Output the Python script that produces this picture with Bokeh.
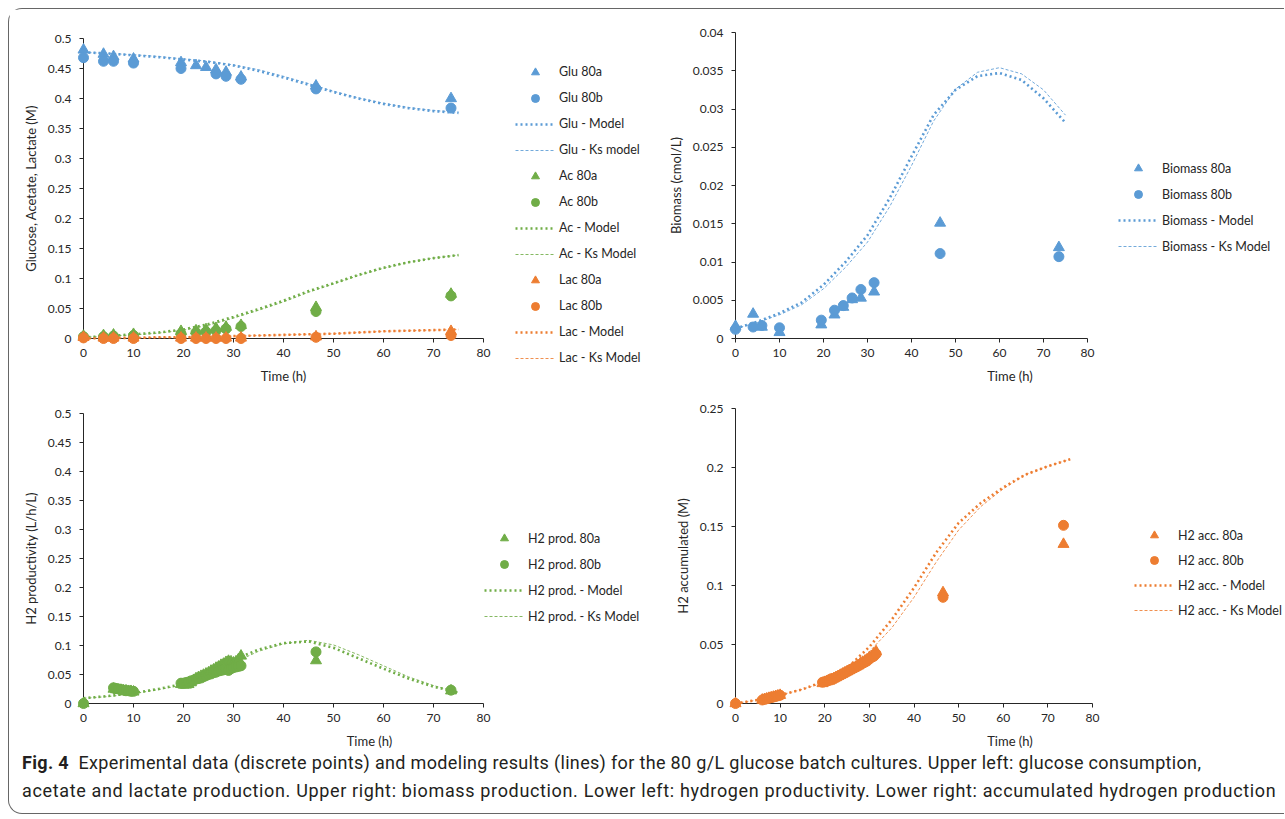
from bokeh.plotting import figure
from bokeh.models import Legend, LegendItem, FixedTicker, Range1d, Div
from bokeh.layouts import column, row
from bokeh.embed import file_html
from bokeh.resources import INLINE

NAN = float("nan")
BLUE = "#5B9BD5"
GREEN = "#70AD47"
ORANGE = "#ED7D31"
FONT = "Lato"
TXT = "#262626"

# ---------------- data ----------------
t_sample = [0, 4, 6, 10, 19.5, 22.5, 24.5, 26.5, 28.5, 31.5, 46.5, 73.5]
glu_80a = [0.481, 0.474, 0.470, 0.466, 0.460, 0.455, 0.452, 0.448, 0.444, 0.436, 0.421, 0.400]
glu_80b = [0.468, 0.462, 0.462, 0.459, 0.450, NAN, NAN, 0.441, 0.437, 0.432, 0.416, 0.384]
ac_80a = [0.004, 0.005, 0.006, 0.007, 0.012, 0.013, 0.015, 0.017, 0.019, 0.022, 0.052, 0.074]
ac_80b = [0.003, 0.003, 0.004, 0.005, 0.008, 0.010, 0.011, 0.013, 0.016, 0.020, 0.045, 0.071]
lac_80a = [0.002, 0.001, 0.001, 0.001, 0.001, 0.001, 0.001, 0.001, 0.001, 0.001, 0.003, 0.012]
lac_80b = [0.001, 0.000, 0.000, 0.000, 0.000, 0.000, 0.000, 0.000, 0.000, 0.000, 0.002, 0.005]
bio_80a = [0.0016, 0.0032, 0.0015, 0.0008, 0.0018, 0.0031, 0.0041, 0.0051, 0.0053, 0.0061, 0.0151, 0.0119]
bio_80b = [0.0012, 0.0015, 0.0017, 0.0014, 0.0024, 0.0037, 0.0043, 0.0053, 0.0064, 0.0073, 0.0111, 0.0107]

t_model = [0, 5, 10, 15, 20, 25, 30, 35, 40, 45, 50, 55, 60, 65, 70, 75]
glu_model = [0.477, 0.475, 0.472, 0.469, 0.465, 0.461, 0.455, 0.446, 0.435, 0.423, 0.411, 0.400, 0.391, 0.384, 0.379, 0.376]
glu_ks = [0.477, 0.475, 0.473, 0.470, 0.466, 0.462, 0.456, 0.448, 0.437, 0.425, 0.412, 0.401, 0.392, 0.385, 0.380, 0.377]
ac_model = [0.002, 0.004, 0.007, 0.010, 0.015, 0.024, 0.036, 0.049, 0.063, 0.079, 0.092, 0.106, 0.118, 0.127, 0.134, 0.139]
ac_ks = [0.002, 0.004, 0.006, 0.009, 0.014, 0.022, 0.034, 0.047, 0.061, 0.077, 0.091, 0.105, 0.117, 0.127, 0.134, 0.139]
lac_model = [0.000, 0.001, 0.001, 0.002, 0.002, 0.003, 0.004, 0.005, 0.006, 0.007, 0.008, 0.010, 0.012, 0.013, 0.014, 0.015]
lac_ks = [0.000, 0.001, 0.001, 0.002, 0.002, 0.003, 0.004, 0.005, 0.006, 0.007, 0.008, 0.010, 0.012, 0.013, 0.014, 0.015]
bio_model = [0.0013, 0.0022, 0.0033, 0.0047, 0.0070, 0.0100, 0.0135, 0.0183, 0.0238, 0.0292, 0.0325, 0.0343, 0.0347, 0.0338, 0.0314, 0.0282]
bio_ks = [0.0013, 0.0021, 0.0031, 0.0044, 0.0065, 0.0093, 0.0126, 0.0172, 0.0226, 0.0284, 0.0326, 0.0348, 0.0354, 0.0346, 0.0325, 0.0292]
h2p_model = [0.009, 0.013, 0.018, 0.025, 0.034, 0.053, 0.075, 0.093, 0.104, 0.107, 0.096, 0.078, 0.060, 0.043, 0.029, 0.019]
h2p_ks = [0.009, 0.012, 0.017, 0.024, 0.032, 0.050, 0.070, 0.090, 0.103, 0.109, 0.101, 0.084, 0.065, 0.046, 0.031, 0.019]
h2a_model = [0.000, 0.003, 0.007, 0.012, 0.019, 0.030, 0.048, 0.071, 0.098, 0.128, 0.153, 0.170, 0.183, 0.194, 0.201, 0.207]
h2a_ks = [0.000, 0.003, 0.007, 0.012, 0.018, 0.028, 0.044, 0.064, 0.090, 0.120, 0.147, 0.167, 0.182, 0.194, 0.201, 0.207]

t_h2 = [0,
        6, 6.5, 7, 7.5, 8, 8.5, 9, 9.5, 10,
        19.5, 20, 20.5, 21, 21.5, 22, 22.5, 23, 23.5, 24, 24.5, 25, 25.5, 26, 26.5,
        27, 27.5, 28, 28.5, 29, 29.5, 30, 30.5, 31, 31.5,
        46.5, 73.5]
h2p_80a = [0,
           0.025, 0.024, 0.023, 0.023, 0.022, 0.022, 0.021, 0.021, 0.020,
           0.033, 0.032, 0.032, 0.033, 0.036, 0.040, 0.043, 0.045, 0.047, 0.049, 0.051, 0.053, 0.056, 0.058, 0.061,
           0.063, 0.066, 0.068, 0.071, 0.073, 0.072, 0.070, 0.072, 0.076, 0.082,
           0.074, 0.022]
h2p_80b = [0,
           0.027, 0.026, 0.025, 0.024, 0.023, 0.022, 0.022, 0.021, 0.021,
           0.035, 0.035, 0.036, 0.037, 0.039, 0.040, 0.042, 0.043, 0.044, 0.046, 0.048, 0.050, 0.051, 0.053, 0.054,
           0.056, 0.057, 0.058, 0.059, 0.057, 0.060, 0.062, 0.063, 0.064, 0.065,
           0.089, 0.023]
h2a_80a = [0,
           0.003, 0.0035, 0.004, 0.0045, 0.005, 0.0055, 0.006, 0.0065, 0.007,
           0.017, 0.018, 0.0185, 0.019, 0.020, 0.021, 0.022, 0.023, 0.024, 0.025, 0.026, 0.027, 0.028, 0.029, 0.030,
           0.031, 0.032, 0.034, 0.035, 0.036, 0.037, 0.039, 0.040, 0.042, 0.044,
           0.094, 0.135]
h2a_80b = [0,
           0.003, 0.0035, 0.004, 0.0045, 0.005, 0.0055, 0.006, 0.0065, 0.007,
           0.018, 0.0185, 0.019, 0.020, 0.021, 0.021, 0.022, 0.023, 0.024, 0.025, 0.026, 0.027, 0.028, 0.029, 0.030,
           0.031, 0.032, 0.033, 0.034, 0.035, 0.036, 0.038, 0.039, 0.040, 0.042,
           0.090, 0.151]

x_ticks = [0, 10, 20, 30, 40, 50, 60, 70, 80]
ul_yticks = [0, 0.05, 0.1, 0.15, 0.2, 0.25, 0.3, 0.35, 0.4, 0.45, 0.5]
ur_yticks = [0, 0.005, 0.01, 0.015, 0.02, 0.025, 0.03, 0.035, 0.04]
ll_yticks = [0, 0.05, 0.1, 0.15, 0.2, 0.25, 0.3, 0.35, 0.4, 0.45, 0.5]
lr_yticks = [0, 0.05, 0.1, 0.15, 0.2, 0.25]


# ---------------- helpers ----------------
def make_panel(fig_w, fig_h, mb, axis_w, yticks, ylabel, ystand=(8, 6)):
    """axis_w: pixel length of the drawn 0..80 x axis; the frame may extend past 80
    (room for the legend)."""
    mbl, mbr, mbt, mbb = mb
    frame_w = fig_w - mbl - mbr
    x_end = x_ticks[-1] * frame_w / axis_w
    p = figure(width=fig_w, height=fig_h, title=None,
               x_range=Range1d(x_ticks[0], x_end),
               y_range=Range1d(yticks[0], yticks[-1]),
               output_backend="svg", toolbar_location=None, frame_align=False,
               min_border_left=mbl, min_border_right=mbr,
               min_border_top=mbt, min_border_bottom=mbb)
    p.background_fill_color = "white"
    p.border_fill_color = "white"
    p.outline_line_color = None
    p.xgrid.visible = False
    p.ygrid.visible = False
    xa = p.xaxis[0]
    ya = p.yaxis[0]
    xa.bounds = (x_ticks[0], x_ticks[-1])
    xa.ticker = FixedTicker(ticks=x_ticks)
    ya.ticker = FixedTicker(ticks=yticks)
    xa.major_label_overrides = {v: f"{v:g}" for v in x_ticks}
    ya.major_label_overrides = {v: f"{v:g}" for v in yticks}
    xa.axis_label = "Time (h)"
    ya.axis_label = ylabel
    for ax in (xa, ya):
        ax.axis_line_color = TXT
        ax.axis_line_width = 1
        ax.major_tick_line_color = TXT
        ax.major_tick_out = 4
        ax.major_tick_in = 0
        ax.minor_tick_line_color = None
        ax.major_label_text_font = FONT
        ax.major_label_text_font_size = "12px"
        ax.major_label_text_color = TXT
        ax.axis_label_text_font = FONT
        ax.axis_label_text_font_size = "13px"
        ax.axis_label_text_font_style = "normal"
        ax.axis_label_text_color = TXT
    xa.major_label_standoff = 6
    xa.axis_label_standoff = 8
    ya.major_label_standoff = ystand[0]
    ya.axis_label_standoff = ystand[1]
    return p


def draw(p, x, y, kind, color):
    if kind == "tri":
        return p.scatter(x, y, marker="triangle", size=11, color=color, level="overlay")
    if kind == "circ":
        return p.scatter(x, y, marker="circle", size=10, color=color, level="overlay")
    if kind == "model":
        return p.line(x, y, line_color=color, line_width=2.6, line_dash="2 3", level="overlay")
    return p.line(x, y, line_color=color, line_width=1, line_dash="3 2", line_alpha=0.85,
                  level="overlay")


def center_legend(p, items, loc_x, frame_bottom_px, first_center_px, spacing, size="12.5px"):
    n = len(items)
    h = n * 20 + (n - 1) * spacing
    bottom = first_center_px - 10 + h
    leg = Legend(items=items, location=(loc_x, frame_bottom_px - bottom), margin=0,
                 orientation="vertical", padding=0, spacing=spacing,
                 glyph_width=40, glyph_height=20, label_height=20, label_standoff=4,
                 border_line_color=None, background_fill_alpha=0,
                 label_text_font=FONT, label_text_font_size=size, label_text_color=TXT)
    p.add_layout(leg)


# page layout (px): left figures from x=9, right figures from x=655;
# row 1 at y=9 (height 389, frames end at y=338), row 2 at y=398 (height 355,
# frames end at y=703), caption at y=753
H1, H2 = 389, 355

# ---------------- upper left: plot + legend strip ----------------
ul_series = [
    (t_sample, glu_80a, "tri", BLUE, "Glu 80a"),
    (t_sample, glu_80b, "circ", BLUE, "Glu 80b"),
    (t_model, glu_model, "model", BLUE, "Glu - Model"),
    (t_model, glu_ks, "ks", BLUE, "Glu - Ks model"),
    (t_sample, ac_80a, "tri", GREEN, "Ac 80a"),
    (t_sample, ac_80b, "circ", GREEN, "Ac 80b"),
    (t_model, ac_model, "model", GREEN, "Ac - Model"),
    (t_model, ac_ks, "ks", GREEN, "Ac - Ks Model"),
    (t_sample, lac_80a, "tri", ORANGE, "Lac 80a"),
    (t_sample, lac_80b, "circ", ORANGE, "Lac 80b"),
    (t_model, lac_model, "model", ORANGE, "Lac - Model"),
    (t_model, lac_ks, "ks", ORANGE, "Lac - Ks Model"),
]
p1 = make_panel(486, H1, (74, 12, 29, 60), 400, ul_yticks, "Glucose, Acetate, Lactate (M)")
for x, y, kind, color, label in ul_series:
    draw(p1, x, y, kind, color)

pl = figure(width=160, height=H1, x_range=Range1d(0, 1), y_range=Range1d(0, 1),
            x_axis_type=None, y_axis_type=None, title=None, frame_align=False,
            output_backend="svg", toolbar_location=None,
            min_border_left=0, min_border_right=0, min_border_top=0, min_border_bottom=0)
pl.outline_line_color = None
pl.xgrid.visible = False
pl.ygrid.visible = False
it1 = []
for x, y, kind, color, label in ul_series:
    r = draw(pl, x, y, kind, color)   # legend swatch only, hidden in this strip
    r.visible = False
    it1.append(LegendItem(label=label, renderers=[r]))
center_legend(pl, it1, 515 - 495, H1, 71.7 - 9, 6)

# ---------------- upper right ----------------
p2 = make_panel(629, H1, (80, 0, 23, 60), 352, ur_yticks, "Biomass (cmol/L)")
it2 = []
for x, y, kind, color, label in [
        (t_sample, bio_80a, "tri", BLUE, "Biomass 80a"),
        (t_sample, bio_80b, "circ", BLUE, "Biomass 80b"),
        (t_model, bio_model, "model", BLUE, "Biomass - Model"),
        (t_model, bio_ks, "ks", BLUE, "Biomass - Ks Model")]:
    it2.append(LegendItem(label=label, renderers=[draw(p2, x, y, kind, color)]))
center_legend(p2, it2, 1118 - 735, 338, 168.3, 6)

# ---------------- lower left ----------------
p3 = make_panel(646, H2, (74, 0, 15, 50), 400, ll_yticks, "H2 productivity (L/h/L)")
it3 = []
for x, y, kind, color, label in [
        (t_h2, h2p_80a, "tri", GREEN, "H2 prod. 80a"),
        (t_h2, h2p_80b, "circ", GREEN, "H2 prod. 80b"),
        (t_model, h2p_model, "model", GREEN, "H2 prod. - Model"),
        (t_model, h2p_ks, "ks", GREEN, "H2 prod. - Ks Model")]:
    it3.append(LegendItem(label=label, renderers=[draw(p3, x, y, kind, color)]))
center_legend(p3, it3, 484 - 83, 703, 538.3, 6)

# ---------------- lower right ----------------
p4 = make_panel(629, H2, (80, 0, 10, 50), 357, lr_yticks, "H2 accumulated (M)")
it4 = []
for x, y, kind, color, label in [
        (t_h2, h2a_80a, "tri", ORANGE, "H2 acc. 80a"),
        (t_h2, h2a_80b, "circ", ORANGE, "H2 acc. 80b"),
        (t_model, h2a_model, "model", ORANGE, "H2 acc. - Model"),
        (t_model, h2a_ks, "ks", ORANGE, "H2 acc. - Ks Model")]:
    it4.append(LegendItem(label=label, renderers=[draw(p4, x, y, kind, color)]))
center_legend(p4, it4, 1134 - 735, 703, 535.0, 5)

caption = Div(
    text=('<div style="font-family:Roboto; font-size:18px; line-height:20px; color:#231f20; '
          'padding-left:13px; white-space:nowrap">'
          '<div style="letter-spacing:0.33px"><b>Fig. 4</b>&nbsp; Experimental data (discrete points) '
          'and modeling results (lines) for the 80 g/L glucose batch cultures. '
          'Upper left: glucose consumption,</div>'
          '<div style="margin-top:8px; letter-spacing:0.65px">acetate and lactate production. '
          'Upper right: biomass production. Lower left: hydrogen productivity. '
          'Lower right: accumulated hydrogen production</div></div>'),
    width=1275, height=60, margin=0)

layout = column(row(p1, pl, p2), row(p3, p4), caption, margin=(8, 0, 0, 8),
                styles={"border-left": "1px solid #666", "border-top": "1px solid #666",
                        "border-bottom": "1px solid #666",
                        "border-radius": "14px 0 0 14px"})

open("out.html", "w").write(file_html(layout, INLINE))
